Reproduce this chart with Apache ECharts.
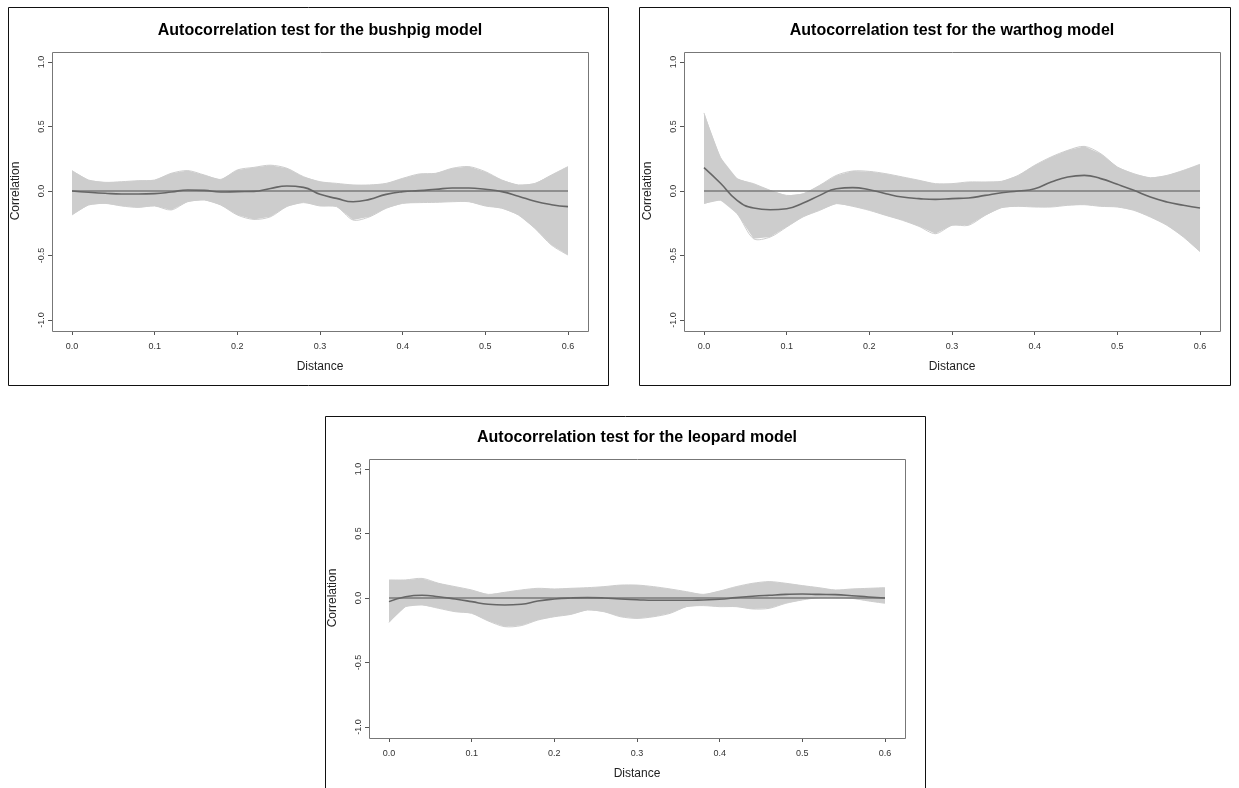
<!DOCTYPE html>
<html><head><meta charset="utf-8">
<script src="https://cdn.jsdelivr.net/npm/echarts@6/dist/echarts.min.js"></script>
<style>html,body{margin:0;padding:0;background:#fff}#c{width:1239px;height:788px}</style>
</head><body><div id="c"></div>
<script>
// ---- data ----
const distance = [0.00,0.02,0.04,0.06,0.08,0.10,0.12,0.14,0.16,0.18,0.20,0.22,0.24,0.26,0.28,0.30,0.32,0.34,0.36,0.38,0.40,0.42,0.44,0.46,0.48,0.50,0.52,0.54,0.56,0.58,0.60];

const bushpigUpper = [0.158,0.085,0.067,0.072,0.080,0.085,0.137,0.158,0.124,0.090,0.163,0.183,0.200,0.176,0.111,0.072,0.059,0.047,0.047,0.059,0.098,0.132,0.137,0.176,0.189,0.150,0.085,0.047,0.059,0.124,0.189];
const bushpigLower = [-0.186,-0.109,-0.096,-0.116,-0.127,-0.116,-0.147,-0.083,-0.070,-0.109,-0.186,-0.220,-0.200,-0.120,-0.090,-0.116,-0.121,-0.225,-0.200,-0.134,-0.096,-0.090,-0.088,-0.083,-0.083,-0.116,-0.134,-0.186,-0.290,-0.419,-0.496];
const bushpigFit   = [0.000,-0.010,-0.018,-0.023,-0.023,-0.020,-0.008,0.008,0.005,-0.008,-0.005,-0.003,0.020,0.039,0.028,-0.026,-0.057,-0.083,-0.065,-0.026,-0.005,0.003,0.013,0.023,0.023,0.013,-0.005,-0.040,-0.080,-0.106,-0.121];

const warthogUpper = [0.605,0.260,0.096,0.057,0.005,-0.034,-0.021,0.044,0.121,0.155,0.152,0.134,0.109,0.083,0.057,0.057,0.070,0.070,0.075,0.121,0.199,0.264,0.315,0.346,0.289,0.186,0.134,0.103,0.121,0.160,0.207];
const warthogLower = [-0.098,-0.072,-0.176,-0.370,-0.357,-0.279,-0.200,-0.150,-0.098,-0.119,-0.150,-0.189,-0.227,-0.274,-0.331,-0.266,-0.266,-0.189,-0.129,-0.119,-0.124,-0.124,-0.111,-0.106,-0.119,-0.124,-0.150,-0.202,-0.266,-0.357,-0.470];
const warthogFit   = [0.181,0.060,-0.072,-0.132,-0.145,-0.137,-0.093,-0.034,0.018,0.026,0.010,-0.021,-0.047,-0.059,-0.065,-0.059,-0.054,-0.034,-0.013,0.000,0.018,0.070,0.109,0.121,0.096,0.052,0.005,-0.047,-0.085,-0.111,-0.132];

const leopardUpper = [0.140,0.140,0.152,0.114,0.088,0.062,0.028,0.044,0.062,0.075,0.070,0.075,0.080,0.088,0.100,0.100,0.088,0.070,0.049,0.028,0.054,0.088,0.114,0.127,0.114,0.096,0.080,0.062,0.070,0.075,0.080];
const leopardLower = [-0.189,-0.067,-0.054,-0.080,-0.106,-0.119,-0.178,-0.222,-0.214,-0.171,-0.145,-0.127,-0.093,-0.106,-0.145,-0.158,-0.145,-0.119,-0.067,-0.059,-0.067,-0.067,-0.085,-0.080,-0.041,-0.015,0.003,0.003,-0.003,-0.023,-0.041];
const leopardFit   = [-0.028,0.010,0.021,0.010,-0.008,-0.028,-0.049,-0.054,-0.049,-0.023,-0.008,0.000,0.003,0.000,-0.008,-0.013,-0.018,-0.018,-0.018,-0.015,-0.010,0.003,0.013,0.021,0.028,0.031,0.028,0.026,0.018,0.008,0.000];

const zeroLine = [0, 0];           // reference line y = 0 (start, end)
const zeroLineX = [0.0, 0.6];

const xTickLabels = ['0.0','0.1','0.2','0.3','0.4','0.5','0.6'];
const yTickLabels = ['-1.0','-0.5','0.0','0.5','1.0'];

const titles = ['Autocorrelation test for the bushpig model','Autocorrelation test for the warthog model','Autocorrelation test for the leopard model'];
const xName = 'Distance';
const yName = 'Correlation';

// ---- layout ----
const panels = [
  {upper: bushpigUpper, lower: bushpigLower, fit: bushpigFit,
   grid: {left: 72, top: 62, width: 496, height: 258}, box: [52, 52, 536, 279], frame: [8, 7, 600, 378]},
  {upper: warthogUpper, lower: warthogLower, fit: warthogFit,
   grid: {left: 704, top: 62, width: 496, height: 258}, box: [684, 52, 536, 279], frame: [639, 7, 591, 378]},
  {upper: leopardUpper, lower: leopardLower, fit: leopardFit,
   grid: {left: 389, top: 469, width: 496, height: 258}, box: [369, 459, 536, 279], frame: [325, 416, 600, 390]}
];

const FONT = '"Liberation Sans", Arial, Helvetica, sans-serif';
const grids = [], xAxes = [], yAxes = [], series = [], graphics = [];

panels.forEach((p, k) => {
  grids.push(Object.assign({containLabel: false}, p.grid));
  xAxes.push({
    type: 'value', gridIndex: k, min: 0, max: 0.6, interval: 0.1, offset: 11,
    axisLine: {show: true, onZero: false, lineStyle: {color: '#555', width: 1}},
    axisTick: {show: true, length: 4, lineStyle: {color: '#555'}},
    axisLabel: {color: '#333', fontSize: 9, fontFamily: FONT, margin: 11,
      formatter: v => xTickLabels[Math.round(v * 10)]},
    splitLine: {show: false},
    name: xName, nameLocation: 'middle', nameGap: 30,
    nameTextStyle: {color: '#222', fontSize: 12, fontFamily: FONT}
  });
  yAxes.push({
    type: 'value', gridIndex: k, min: -1, max: 1, interval: 0.5, offset: 20,
    axisLine: {show: true, onZero: false, lineStyle: {color: '#555', width: 1}},
    axisTick: {show: true, length: 4, lineStyle: {color: '#555'}},
    axisLabel: {color: '#333', fontSize: 9, fontFamily: FONT, margin: 6, rotate: 90,
      formatter: v => yTickLabels[Math.round((v + 1) * 2)]},
    splitLine: {show: false},
    name: yName, nameLocation: 'middle', nameGap: 30,
    nameTextStyle: {color: '#222', fontSize: 12, fontFamily: FONT}
  });
  // confidence band as one polygon through the axis scales
  series.push({
    type: 'custom', xAxisIndex: k, yAxisIndex: k,
    data: distance.map((d, i) => [d, p.lower[i], p.upper[i]]),
    encode: {x: 0, y: [1, 2]},
    silent: true, z: 1,
    renderItem: (params, api) => {
      if (params.dataIndex !== 0) return null;
      const n = params.dataInsideLength || distance.length;
      const top = [], bot = [];
      for (let i = 0; i < distance.length; i++) {
        top.push(api.coord([api.value(0, i), api.value(2, i)]));
        bot.push(api.coord([api.value(0, i), api.value(1, i)]));
      }
      return {
        type: 'group',
        children: [{
          type: 'polyline', shape: {points: top, smooth: 0.3},
          style: {fill: null, stroke: '#cdcdcd', lineWidth: 1}
        }, {
          type: 'polyline', shape: {points: bot, smooth: 0.3},
          style: {fill: null, stroke: '#cdcdcd', lineWidth: 1}
        }, {
          type: 'polygon', shape: {points: top.concat(bot.slice().reverse())},
          style: {fill: '#cdcdcd', stroke: null}
        }]
      };
    }
  });
  series.push({
    type: 'line', xAxisIndex: k, yAxisIndex: k,
    data: zeroLineX.map((d, i) => [d, zeroLine[i]]),
    symbol: 'none', lineStyle: {color: '#7a7a7a', width: 1.6}, silent: true, z: 2
  });
  series.push({
    type: 'line', xAxisIndex: k, yAxisIndex: k,
    data: distance.map((d, i) => [d, p.fit[i]]),
    symbol: 'none', smooth: 0.5, lineStyle: {color: '#666', width: 1.6}, silent: true, z: 3
  });
  graphics.push({type: 'rect', shape: {x: p.frame[0] + 0.5, y: p.frame[1] + 0.5, width: p.frame[2], height: p.frame[3]},
    style: {fill: null, stroke: '#111', lineWidth: 1}, silent: true, z: 0});
  graphics.push({type: 'rect', shape: {x: p.box[0] + 0.5, y: p.box[1] + 0.5, width: p.box[2], height: p.box[3]},
    style: {fill: null, stroke: '#777', lineWidth: 1}, silent: true, z: 10});
  graphics.push({type: 'text', x: p.box[0] + p.box[2] / 2, y: p.box[1] - 21,
    style: {text: titles[k], fill: '#000', font: 'bold 16px ' + FONT, textAlign: 'center', textVerticalAlign: 'middle'},
    silent: true, z: 10});
});

const chart = echarts.init(document.getElementById('c'), null, {renderer: 'canvas'});
chart.setOption({
  animation: false,
  backgroundColor: '#fff',
  grid: grids, xAxis: xAxes, yAxis: yAxes, series: series,
  graphic: {elements: graphics}
});
</script></body></html>
